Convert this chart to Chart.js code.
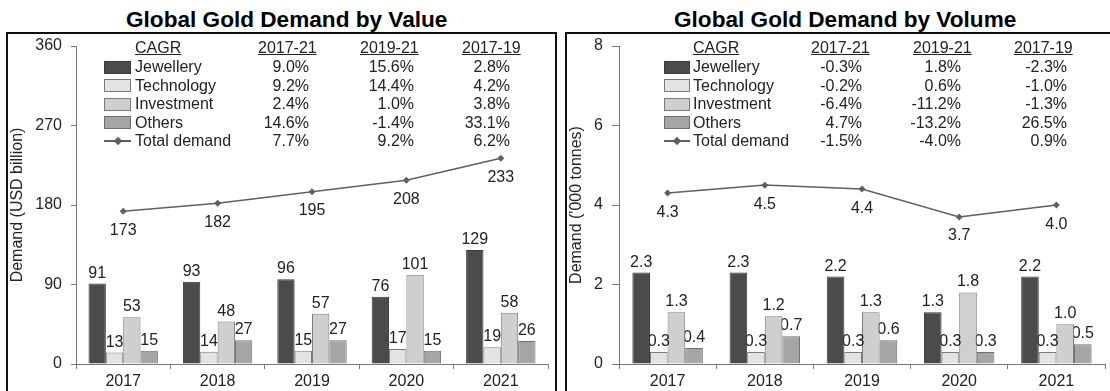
<!DOCTYPE html>
<html>
<head>
<meta charset="utf-8">
<script src="https://cdn.jsdelivr.net/npm/chart.js@4.4.1/dist/chart.umd.min.js"></script>
<style>
html, body { margin: 0; padding: 0; background: #fff; }
body { width: 1110px; height: 391px; position: relative; overflow: hidden;
       font-family: "Liberation Sans", Arial, sans-serif; color: #222; }
.panel { position: absolute; border: 2px solid #111; box-sizing: border-box; }
.title { position: absolute; font-weight: bold; font-size: 22.6px; line-height: 1; white-space: nowrap; color: #000; }
.t { position: absolute; font-size: 16px; line-height: 16px; white-space: nowrap; color: #222; }
.u { text-decoration: underline; }
.r { text-align: right; width: 80px; }
.sw { position: absolute; box-sizing: border-box; border: 1px solid #666; }
.ln { position: absolute; height: 2px; background: #5f5f5f; }
.dm { position: absolute; width: 6px; height: 6px; background: #5f5f5f; transform: rotate(45deg); }
canvas { position: absolute; }
</style>
</head>
<body>
<div class="panel" style="left:6px;top:32px;width:551px;height:380px;"></div>
<div class="panel" style="left:565px;top:32px;width:548px;height:380px;"></div>
<div class="title" style="left:126px;top:9.4px;">Global Gold Demand by Value</div>
<div class="title" style="left:674px;top:9.4px;">Global Gold Demand by Volume</div>
<canvas id="valueChart" width="548" height="364" style="left:8px;top:27px;"></canvas>
<canvas id="volumeChart" width="543" height="364" style="left:567px;top:27px;"></canvas>
<div id="legends"></div>

<script>
// ---- data ----
const years = ['2017', '2018', '2019', '2020', '2021'];
const seriesNames = ['Jewellery', 'Technology', 'Investment', 'Others'];
const totalName = 'Total demand';

// demand by value, USD billion
const valueJewellery  = [91, 93, 96, 76, 129];
const valueTechnology = [13, 14, 15, 17, 19];
const valueInvestment = [53, 48, 57, 101, 58];
const valueOthers     = [15, 27, 27, 15, 26];
const valueTotal      = [173, 182, 195, 208, 233];
const valueTicks      = [0, 90, 180, 270, 360];

// demand by volume, '000 tonnes
const volumeJewellery  = [2.3, 2.3, 2.2, 1.3, 2.2];
const volumeTechnology = [0.3, 0.3, 0.3, 0.3, 0.3];
const volumeInvestment = [1.3, 1.2, 1.3, 1.8, 1.0];
const volumeOthers     = [0.4, 0.7, 0.6, 0.3, 0.5];
const volumeTotal      = [4.3, 4.5, 4.4, 3.7, 4.0];
const volumeTicks      = [0, 2, 4, 6, 8];

// compound annual growth rates shown in the key
const cagrPeriods = ['2017-21', '2019-21', '2017-19'];
const valueCagr = [
  ['9.0%', '15.6%', '2.8%'],
  ['9.2%', '14.4%', '4.2%'],
  ['2.4%', '1.0%', '3.8%'],
  ['14.6%', '-1.4%', '33.1%'],
  ['7.7%', '9.2%', '6.2%']
];
const volumeCagr = [
  ['-0.3%', '1.8%', '-2.3%'],
  ['-0.2%', '0.6%', '-1.0%'],
  ['-6.4%', '-11.2%', '-1.3%'],
  ['4.7%', '-13.2%', '26.5%'],
  ['-1.5%', '-4.0%', '0.9%']
];

// ---- styling ----
const FONT = '"Liberation Sans", Arial, sans-serif';
const TEXT = '#222';
const AXIS = '#777';
const barFill   = ['#4a4b4d', '#e3e3e3', '#cfcfd0', '#a4a5a7'];
const barBorder = ['#3a3a3a', '#7a7a7a', '#7a7a7a', '#6e6e6e'];
const lineColor = '#5f5f5f';

Chart.defaults.font.family = FONT;
Chart.defaults.font.size = 16;
Chart.defaults.color = TEXT;

// value labels: above each bar, below each point of the total line
const valueLabels = {
  id: 'valueLabels',
  afterDatasetDraw(chart, args, opts) {
    const ds = chart.data.datasets[args.index];
    const ctx = chart.ctx;
    ctx.save();
    ctx.font = '16px ' + FONT;
    ctx.fillStyle = TEXT;
    ctx.textAlign = 'center';
    ctx.textBaseline = 'alphabetic';
    args.meta.data.forEach((el, i) => {
      const txt = opts.format(ds.data[i]);
      if (ds.type === 'line') ctx.fillText(txt, el.x, el.y + 23.5);
      else ctx.fillText(txt, el.x, el.y - 6);
    });
    ctx.restore();
  }
};

function buildChart(id, cfg) {
  const bars = [cfg.jewellery, cfg.technology, cfg.investment, cfg.others].map((d, k) => ({
    type: 'bar',
    label: seriesNames[k],
    data: d,
    backgroundColor: barFill[k],
    borderColor: barBorder[k],
    borderWidth: 1,
    order: 1,
    categoryPercentage: cfg.groupWidth,
    barPercentage: 1
  }));
  const total = {
    type: 'line',
    label: totalName,
    data: cfg.total,
    borderColor: lineColor,
    backgroundColor: lineColor,
    borderWidth: 1.5,
    pointStyle: 'rectRot',
    pointRadius: 3.5,
    pointBorderWidth: 0,
    order: 0
  };
  return new Chart(document.getElementById(id), {
    data: { labels: years, datasets: bars.concat([total]) },
    plugins: [valueLabels],
    options: {
      responsive: false,
      animation: false,
      events: [],
      layout: { padding: { left: 0, right: cfg.padRight, top: 19, bottom: 0 } },
      plugins: {
        legend: { display: false },
        tooltip: { enabled: false },
        valueLabels: { format: cfg.format }
      },
      scales: {
        x: {
          type: 'category',
          grid: { offset: true, drawOnChartArea: false, drawTicks: true, tickLength: 5, color: AXIS },
          border: { display: true, color: AXIS, width: 1 },
          ticks: { padding: 3, color: TEXT, font: { size: 16 } },
          afterFit(s) { s.height = 27; }
        },
        y: {
          min: cfg.ticks[0],
          max: cfg.ticks[cfg.ticks.length - 1],
          afterBuildTicks(s) { s.ticks = cfg.ticks.map(v => ({ value: v })); },
          grid: { drawOnChartArea: false, drawTicks: true, tickLength: cfg.tickLen, color: AXIS },
          border: { display: true, color: AXIS, width: 1 },
          ticks: { padding: 9, color: TEXT, font: { size: 16 }, callback: v => String(v) },
          title: { display: true, text: cfg.yTitle, color: TEXT, font: { size: 16 }, padding: { top: 0, bottom: 0 } },
          afterFit(s) { s.width = cfg.axisWidth; }
        }
      }
    }
  });
}

buildChart('valueChart', {
  jewellery: valueJewellery, technology: valueTechnology,
  investment: valueInvestment, others: valueOthers, total: valueTotal,
  ticks: valueTicks, yTitle: 'Demand (USD billion)',
  axisWidth: 68, padRight: 8, tickLen: 5, groupWidth: 0.735,
  format: v => String(v)
});

buildChart('volumeChart', {
  jewellery: volumeJewellery, technology: volumeTechnology,
  investment: volumeInvestment, others: volumeOthers, total: volumeTotal,
  ticks: volumeTicks, yTitle: "Demand ('000 tonnes)",
  axisWidth: 52, padRight: 5, tickLen: 7, groupWidth: 0.725,
  format: v => v.toFixed(1)
});

// ---- CAGR key tables ----
function buildKey(layout, cagr) {
  const host = document.getElementById('legends');
  const add = (html) => host.insertAdjacentHTML('beforeend', html);
  const rowCenters = [67, 85.5, 104, 122.5, 141];
  const headCenter = 48;
  const off = 7.8;
  add(`<div class="t u" style="left:${layout.nameX}px;top:${headCenter - off}px;">CAGR</div>`);
  cagrPeriods.forEach((p, c) => {
    add(`<div class="t u" style="left:${layout.headX[c]}px;top:${headCenter - off}px;">${p}</div>`);
  });
  seriesNames.concat([totalName]).forEach((name, r) => {
    const cy = rowCenters[r];
    if (r < seriesNames.length) {
      add(`<div class="sw" style="left:${layout.swX}px;top:${cy - 6.5}px;width:${layout.swW}px;height:13px;background:${barFill[r]};border-color:${barBorder[r]};"></div>`);
    } else {
      add(`<div class="ln" style="left:${layout.swX}px;top:${cy - 1}px;width:${layout.swW}px;"></div>`);
      add(`<div class="dm" style="left:${layout.swX + layout.swW / 2 - 3}px;top:${cy - 3}px;"></div>`);
    }
    add(`<div class="t" style="left:${layout.nameX}px;top:${cy - off}px;">${name}</div>`);
    cagr[r].forEach((val, c) => {
      add(`<div class="t r" style="left:${layout.valRight[c] - 80}px;top:${cy - off}px;">${val}</div>`);
    });
  });
}

buildKey({ swX: 104, swW: 27, nameX: 135, headX: [258, 360, 462], valRight: [309, 414, 510] }, valueCagr);
buildKey({ swX: 664, swW: 26, nameX: 693, headX: [811, 913, 1014], valRight: [862, 961, 1067] }, volumeCagr);
</script>
</body>
</html>
